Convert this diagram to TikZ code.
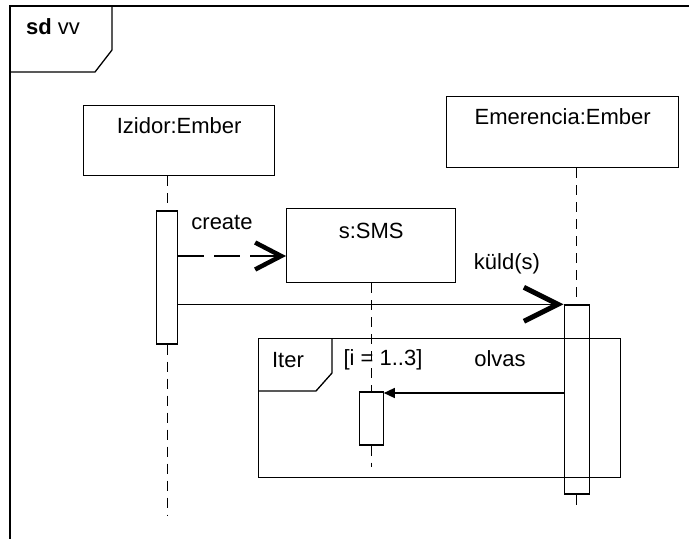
\documentclass[tikz,border=0pt]{standalone}
\usepackage{fontspec}
\setmainfont{Liberation Sans}
\usepackage{tikz}
\usetikzlibrary{arrows.meta}
\usetikzlibrary{positioning}

\begin{document}
\begin{tikzpicture}[x=1pt, y=-1pt, font=\fontsize{22}{26}\selectfont]

\tikzstyle{object}=[draw, line width=1.3pt, inner sep=0pt, minimum width=164pt, text height=28pt, text depth=43pt, anchor=north west]
\tikzstyle{activation}=[draw, line width=1.3pt, inner sep=0pt, minimum width=22pt]
\tikzstyle{lifeline}=[draw, line width=1.2pt, dash pattern=on 10pt off 7pt]
\tikzstyle{frame}=[draw, line width=1.3pt]
\tikzstyle{create}=[draw, line width=1.3pt, dash pattern=on 26pt off 10pt, -{Straight Barb[sharp, length=26pt, width=27pt, line width=4.5pt]}]
\tikzstyle{call}=[draw, line width=1.3pt, -{Straight Barb[sharp, length=34pt, width=34pt, line width=5pt]}]
\tikzstyle{reply}=[draw, line width=1.3pt, -{Triangle[length=11pt, width=10pt]}]

\useasboundingbox (0,0) rectangle (689,539);

% outer frame
\coordinate (frame_nw) at (10,6);
\coordinate (frame_ne) at (689,6);
\coordinate (frame_sw) at (10,539);
\path[frame] (frame_ne) -- (frame_nw) -- (frame_sw);
\path[frame] (112,6) -- (112,50) -- (95,72) -- (10,72);
\node (sd) at (53,27) {\textbf{sd} vv};

% objects
\node[object, minimum width=191pt, text depth=42pt] (izidor) at (83,105) {Izidor:Ember};
\node[object, minimum width=169pt, text height=30pt, text depth=44pt] (sms) at (286,208) {s:SMS};
\node[object, minimum width=232pt] (emerencia) at (446,96) {Emerencia:Ember};

% activations
\node[activation, minimum width=21pt, minimum height=133pt, below=34pt of izidor, xshift=-12pt] (izidor_act) {};
\node[activation, minimum width=24pt, minimum height=53pt, below=108pt of sms] (sms_act) {};
\node[activation, minimum width=25pt, minimum height=189pt, below=136pt of emerencia, xshift=14pt] (emerencia_act) {};

\coordinate (izidor_end) at (izidor_act.south |- 0,515);
\coordinate (sms_end) at (sms_act.south |- 0,467);
\coordinate (emerencia_end) at (emerencia_act.south |- 0,510);

% lifelines
\path[lifeline] (izidor_act.north |- izidor.south) -- (izidor_act.north);
\path[lifeline] (izidor_act.south) -- (izidor_end);
\path[lifeline] (sms_act.north |- sms.south) -- (sms_act.north);
\path[lifeline] (sms_act.south) -- (sms_end);
\path[lifeline] (emerencia_act.north |- emerencia.south) -- (emerencia_act.north);
\path[lifeline] (emerencia_act.south) -- (emerencia_end);

% loop fragment
\node[frame, inner sep=0pt, minimum width=362pt, minimum height=139pt, anchor=north west] (iter) at (258,338) {};
\path[frame] (332,338) -- (332,373) -- (316,391) -- (258,391);
\node (iter_label) at (288,360) {Iter};
\node (guard) at (383,360) {[i = 1..3]};

% messages
\coordinate (create_end) at (286,256);
\coordinate (olvas_y) at (0,393);
\path[create] (izidor_act.east |- create_end) -- (create_end);
\path[call] (izidor_act.east |- emerencia_act.north west) -- (emerencia_act.north west);
\path[reply] (emerencia_act.west |- olvas_y) -- (sms_act.east |- olvas_y);

\node (create_label) at (222,222) {create};
\node (kuld_label) at (507,264) {küld(s)};
\node (olvas_label) at (500,359) {olvas};

\end{tikzpicture}
\end{document}
